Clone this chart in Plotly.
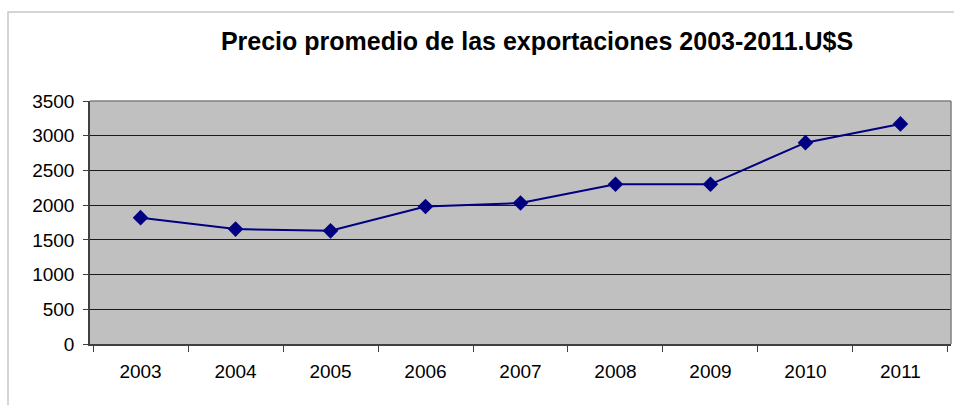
import plotly.graph_objects as go

years = ["2003", "2004", "2005", "2006", "2007", "2008", "2009", "2010", "2011"]
prices = [1820, 1655, 1630, 1980, 2030, 2300, 2300, 2900, 3170]
y_ticks = [0, 500, 1000, 1500, 2000, 2500, 3000, 3500]
title_text = "Precio promedio de las exportaciones 2003-2011.U$S"

W, H = 954, 405
L, R, T, B = 90, 3, 101, 61
pw, ph = W - L - R, H - T - B

def px(x):
    return (x - L) / pw

def py(y):
    return (H - B - y) / ph

fig = go.Figure()
fig.add_trace(go.Scatter(
    x=years, y=prices, mode="lines+markers",
    line=dict(color="#000080", width=2),
    marker=dict(symbol="diamond", size=12, color="#000080"),
    showlegend=False, hoverinfo="x+y",
))

font = dict(family="Liberation Sans, Arial, sans-serif", size=19, color="#000000")

fig.update_layout(
    width=W, height=H,
    margin=dict(l=L, r=R, t=T, b=B, pad=0),
    paper_bgcolor="#ffffff",
    plot_bgcolor="#c0c0c0",
    font=font,
    title=dict(text="<b>" + title_text + "</b>", x=px(537), xref="paper", xanchor="center",
               y=1 - 41 / H, yanchor="middle",
               font=dict(family="Liberation Sans, Arial, sans-serif", size=25, color="#000000")),
    xaxis=dict(
        type="category", tickson="boundaries", ticks="outside", ticklen=6,
        tickcolor="#404040", tickwidth=1, showgrid=False, showline=True,
        linecolor="#404040", linewidth=1.5, zeroline=False,
        ticklabelstandoff=9, tickfont=font,
    ),
    yaxis=dict(
        range=[0, 3500], tickvals=y_ticks, ticks="outside", ticklen=5,
        tickcolor="#404040", tickwidth=1, showgrid=True, gridcolor="#1a1a1a",
        gridwidth=1.2, showline=True, linecolor="#404040", linewidth=1.5,
        zeroline=False, ticklabelstandoff=5, tickfont=font,
    ),
    shapes=[
        dict(type="line", xref="paper", yref="paper", x0=0, x1=1, y0=1, y1=1,
             line=dict(color="#808080", width=1.5)),
        dict(type="line", xref="paper", yref="paper", x0=1, x1=1, y0=0, y1=1,
             line=dict(color="#808080", width=1.5)),
        dict(type="rect", xref="paper", yref="paper",
             x0=px(8), x1=px(962), y0=py(12), y1=py(412),
             line=dict(color="#c8c8c8", width=1.5), layer="below"),
    ],
)

fig.write_html(
    "out.html",
    config={"displayModeBar": False},
    post_script="document.body.style.margin='0';document.body.style.overflow='hidden';",
)
